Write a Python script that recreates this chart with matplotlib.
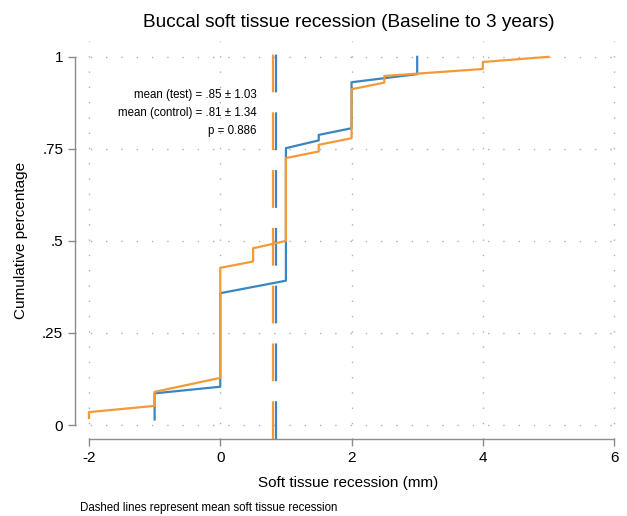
import matplotlib
matplotlib.use('Agg')
from matplotlib import pyplot as plt

# vertices of the cumulative curves (x in mm, cumulative share)
test_x = [-1, -1, 0, 0, 1, 1, 1.5, 1.5, 2, 2, 3, 3]
test_y = [0.015, 0.086, 0.104, 0.358, 0.392, 0.752, 0.773, 0.788, 0.806, 0.931, 0.953, 1.0]

control_x = [-2, -2, -1, -1, 0, 0, 0.5, 0.5, 1, 1, 1.5, 1.5, 2, 2, 2.5, 2.5, 4, 4, 5]
control_y = [0.019, 0.035, 0.052, 0.09, 0.128, 0.427, 0.444, 0.48, 0.50, 0.725, 0.743,
             0.761, 0.779, 0.912, 0.930, 0.948, 0.967, 0.986, 1.0]

mean_test = 0.85
mean_control = 0.81

x_ticks = [-2, 0, 2, 4, 6]
y_ticks = [0, 0.25, 0.5, 0.75, 1]
y_labels = ['0', '.25', '.5', '.75', '1']

blue = '#3a86c0'
orange = '#f39a38'
grey = '#8c8c8c'

plt.rcParams['font.family'] = ['Liberation Sans', 'DejaVu Sans']
plt.rcParams['axes.unicode_minus'] = False

fig = plt.figure(figsize=(6.27, 5.16), dpi=100)
ax = fig.add_axes([75 / 627, 77 / 516, 547 / 627, 398 / 516])

ax.plot(test_x, test_y, color=blue, lw=1.6, zorder=3)
ax.plot(control_x, control_y, color=orange, lw=1.6, zorder=4)

# mean lines
ax.axvline(mean_control, color=orange, lw=1.6, dashes=(17, 9), zorder=2)
ax.axvline(mean_test, color=blue, lw=1.6, dashes=(17, 9), zorder=2)

ax.set_xlim(-2.213, 6.12)
ax.set_ylim(-0.038, 1.043)
ax.set_xticks(x_ticks)
ax.set_yticks(y_ticks)
ax.set_yticklabels(y_labels)
ax.grid(True, color='#b0b0b0', lw=1, linestyle=(0, (1, 10)))

for s in ['top', 'right']:
    ax.spines[s].set_visible(False)
ax.spines['left'].set_bounds(0, 1)
ax.spines['bottom'].set_bounds(-2, 6)
for s in ['left', 'bottom']:
    ax.spines[s].set_color(grey)
    ax.spines[s].set_linewidth(1)
ax.tick_params(colors=grey, labelcolor='black', labelsize=11, length=5, width=1)

ax.set_xlabel('Soft tissue recession (mm)', fontsize=11, labelpad=8)
ax.set_ylabel('Cumulative percentage', fontsize=11, labelpad=10)
ax.set_title('Buccal soft tissue recession (Baseline to 3 years)', fontsize=13.7, pad=10)

notes = ['mean (test) = .85 \u00b1 1.03', 'mean (control) = .81 \u00b1 1.34', 'p = 0.886']
for i, t in enumerate(notes):
    fig.text(257 / 627, 1 - (95 + 18 * i) / 516, t, ha='right', va='center', fontsize=8.3)

fig.text(80 / 627, 1 - 508 / 516, 'Dashed lines represent mean soft tissue recession',
         ha='left', va='center', fontsize=8.3)

plt.savefig('out.png', dpi=100)
